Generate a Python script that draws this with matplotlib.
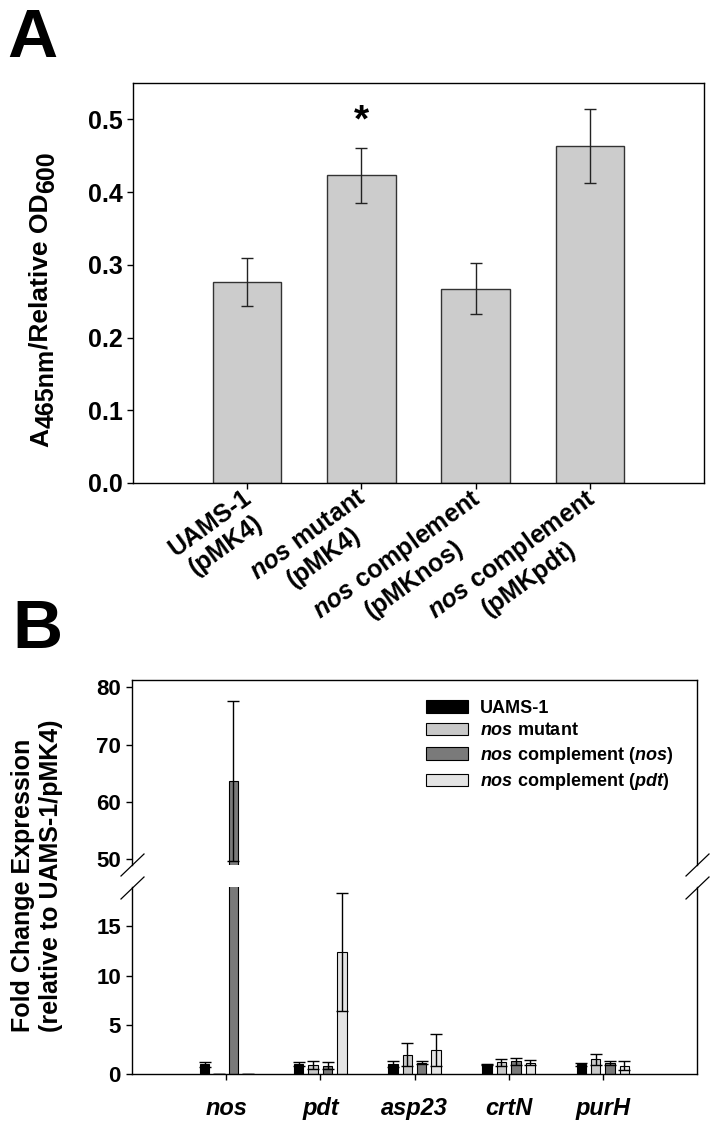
import matplotlib
matplotlib.use("Agg")
import matplotlib.pyplot as plt
import matplotlib.transforms as mtransforms
import numpy as np
from matplotlib.lines import Line2D
from matplotlib.patches import Patch

plt.rcParams["font.family"] = ["Liberation Sans", "DejaVu Sans"]
plt.rcParams["font.weight"] = "bold"
plt.rcParams["mathtext.fontset"] = "custom"
plt.rcParams["mathtext.rm"] = "Liberation Sans:bold"
plt.rcParams["mathtext.bf"] = "Liberation Sans:bold"
plt.rcParams["mathtext.it"] = "Liberation Sans:italic:bold"
plt.rcParams["mathtext.default"] = "rm"
plt.rcParams["axes.linewidth"] = 1.0

# --- Panel A data ---
strain_labels = [
    "UAMS-1\n(pMK4)",
    r"$\mathit{nos}$ mutant" "\n(pMK4)",
    r"$\mathit{nos}$ complement" "\n(pMKnos)",
    r"$\mathit{nos}$ complement" "\n(pMKpdt)",
]
a_values = [0.276, 0.423, 0.267, 0.463]
a_errors = [0.033, 0.038, 0.035, 0.051]

# --- Panel B data ---
genes = ["nos", "pdt", "asp23", "crtN", "purH"]
series_names = [
    "UAMS-1",
    r"$\mathit{nos}$ mutant",
    r"$\mathit{nos}$ complement ($\mathit{nos}$)",
    r"$\mathit{nos}$ complement ($\mathit{pdt}$)",
]
uams = [1.0, 1.0, 1.0, 1.0, 1.0]
uams_err = [0.25, 0.2, 0.3, 0.05, 0.15]
mutant = [0.0, 0.95, 1.97, 1.19, 1.5]
mutant_err = [0.0, 0.4, 1.15, 0.35, 0.55]
comp_nos = [63.6, 0.85, 1.16, 1.29, 1.16]
comp_nos_err = [14.0, 0.33, 0.17, 0.34, 0.2]
comp_pdt = [0.0, 12.4, 2.48, 1.15, 0.83]
comp_pdt_err = [0.0, 6.0, 1.62, 0.28, 0.45]

series_vals = [uams, mutant, comp_nos, comp_pdt]
series_errs = [uams_err, mutant_err, comp_nos_err, comp_pdt_err]
series_colors = ["#000000", "#c8c8c8", "#7a7a7a", "#e4e4e4"]

W, H = 716, 1128
fig = plt.figure(figsize=(W / 100, H / 100), dpi=100)
renderer = fig.canvas.get_renderer()


def box(x0, y0, x1, y1):
    # pixel box (top-left origin) -> figure fraction rect
    return [x0 / W, 1 - y1 / H, (x1 - x0) / W, (y1 - y0) / H]


# ================= Panel A =================
ax = fig.add_axes(box(133, 83, 704, 483))
xa = np.arange(1, len(a_values) + 1)
ax.bar(xa, a_values, 0.6, color="#cccccc", edgecolor="#333333", linewidth=1.0, zorder=2)
ax.errorbar(xa, a_values, yerr=a_errors, fmt="none", ecolor="#222222",
            elinewidth=1.0, capsize=4.5, capthick=1.0, zorder=3)
ax.text(2, 0.497, "*", ha="center", va="center", fontsize=28, fontweight="bold")
ax.set_xlim(0, 5)
ax.set_ylim(0, 0.55)
ax.set_yticks(np.arange(0, 0.51, 0.1))
ax.set_yticklabels([f"{v:.1f}" for v in np.arange(0, 0.51, 0.1)], fontsize=18)
ax.set_xticks(xa)
ax.set_xticklabels(strain_labels, fontsize=18, rotation=36, ha="right", va="top",
                   rotation_mode="anchor", multialignment="center")
ax.tick_params(direction="out", length=4.5, width=1.0, pad=3)
ax.tick_params(axis="x", pad=1)
# nudge the slanted labels a little up and left
shift = mtransforms.ScaledTranslation(-4 / 72, 4 / 72, fig.dpi_scale_trans)
for lbl in ax.get_xticklabels():
    lbl.set_transform(lbl.get_transform() + shift)

# y label with full-size subscripts, built piece by piece from the bottom up
y_px = 447
for s, size, dx in [("A", 19, 0), ("465nm", 18, 6), ("/Relative OD", 19, 0), ("600", 18, 6)]:
    t = fig.text((48 + dx) / W, 1 - y_px / H, s, rotation=90, rotation_mode="anchor",
                 ha="left", va="baseline", fontsize=size, fontweight="bold")
    y_px -= t.get_window_extent(renderer).height

fig.text(7 / W, 1 - 57 / H, "A", fontsize=50, fontweight="bold", ha="left", va="baseline")

# ================= Panel B =================
ax_top = fig.add_axes(box(132, 680, 697, 865))
ax_bot = fig.add_axes(box(132, 887, 697, 1074))
xg = np.arange(1, len(genes) + 1)
offsets = np.array([-1.5, -0.5, 0.5, 1.5]) * 0.153
bw = 0.10
for axb in (ax_top, ax_bot):
    for i in range(4):
        axb.bar(xg + offsets[i], series_vals[i], bw, color=series_colors[i],
                edgecolor="black", linewidth=0.8, zorder=2)
        axb.errorbar(xg + offsets[i], series_vals[i], yerr=series_errs[i], fmt="none",
                     ecolor="black", elinewidth=1.0, capsize=4.3, capthick=1.0, zorder=3)
    axb.set_xlim(0, 6)
    axb.tick_params(direction="out", length=4.5, width=1.0)

ax_top.set_ylim(48.9, 81.3)
ax_top.set_yticks([50, 60, 70, 80])
ax_top.set_yticklabels(["50", "60", "70", "80"], fontsize=16)
ax_top.spines["bottom"].set_visible(False)
ax_top.set_xticks([])

ax_bot.set_ylim(0, 19)
ax_bot.set_yticks([0, 5, 10, 15])
ax_bot.set_yticklabels(["0", "5", "10", "15"], fontsize=16)
ax_bot.spines["top"].set_visible(False)
ax_bot.set_xticks(xg)
ax_bot.set_xticklabels(genes, fontsize=17, fontstyle="italic")
ax_bot.tick_params(axis="x", pad=12)

# axis break marks
for xs in (132, 697):
    for yc in (865, 888):
        fig.add_artist(Line2D([(xs - 11) / W, (xs + 12) / W],
                              [1 - (yc + 11) / H, 1 - (yc - 11) / H],
                              color="black", linewidth=0.9))

handles = [Patch(facecolor=c, edgecolor="black", linewidth=0.8) for c in series_colors]
fig.legend(handles, series_names, loc="upper left", bbox_to_anchor=(426 / W, 1 - 700 / H),
           frameon=False, fontsize=13, handlelength=2.3, handleheight=0.7,
           handletextpad=0.7, labelspacing=0.3, borderpad=0, borderaxespad=0)

fig.text(37 / W, 1 - 876 / H, "Fold Change Expression\n(relative to UAMS-1/pMK4)",
         rotation=90, ha="center", va="center", fontsize=18, fontweight="bold",
         multialignment="left")
fig.text(12 / W, 1 - 648 / H, "B", fontsize=50, fontweight="bold", ha="left", va="baseline")

fig.savefig("out.png", dpi=100)
